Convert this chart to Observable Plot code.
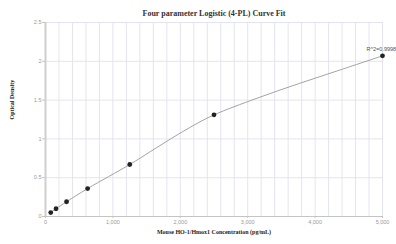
<!DOCTYPE html>
<html>
<head>
<meta charset="utf-8">
<script src="https://cdn.jsdelivr.net/npm/d3@7"></script>
<script src="https://cdn.jsdelivr.net/npm/@observablehq/plot@0.6"></script>
<style>
  html, body { margin: 0; padding: 0; background: #fff; }
</style>
</head>
<body>
<div id="chart"></div>
<script>
const titleText = "Four parameter Logistic (4-PL) Curve Fit";
const xLabel = "Mouse HO-1/Hmox1 Concentration (pg/mL)";
const yLabel = "Optical Density";
const r2Label = "R^2=0.9998";

const concentrations = [78.125, 156.25, 312.5, 625, 1250, 2500, 5000];
const odValues = [0.05, 0.10, 0.19, 0.36, 0.67, 1.31, 2.07];

const curveX = [78, 156, 312, 625, 1250, 1563, 1875, 2188, 2500, 3125, 3750, 4375, 5000];
const curveY = [0.05, 0.10, 0.19, 0.36, 0.67, 0.84, 1.01, 1.17, 1.31, 1.52, 1.71, 1.89, 2.07];

const xTicks = [0, 1000, 2000, 3000, 4000, 5000];
const xTickLabels = ["0", "1,000", "2,000", "3,000", "4,000", "5,000"];
const yTicks = [0, 0.5, 1, 1.5, 2, 2.5];
const yTickLabels = ["0", "0.5", "1", "1.5", "2", "2.5"];
const xGrid = d3.range(0, 5001, 200);

const points = concentrations.map((c, i) => ({x: c, y: odValues[i]}));
const curve = curveX.map((c, i) => ({x: c, y: curveY[i]}));

const serif = "'Liberation Serif', 'Times New Roman', serif";

const chart = Plot.plot({
  width: 396,
  height: 244,
  marginLeft: 45,
  marginRight: 14,
  marginTop: 22,
  marginBottom: 28,
  style: {fontFamily: "'Liberation Sans', Arial, sans-serif", background: "#fff", overflow: "hidden"},
  x: {domain: [0, 5000]},
  y: {domain: [0, 2.5]},
  marks: [
    Plot.gridX(xGrid, {stroke: "#e4e4f0", strokeOpacity: 1}),
    Plot.gridY(yTicks.slice(1), {stroke: "#e4e4f0", strokeOpacity: 1}),
    Plot.ruleY([0], {stroke: "#c4c4c4", strokeWidth: 1}),
    Plot.ruleX([0], {stroke: "#cfcfcf", strokeWidth: 2}),
    Plot.axisX(xTicks, {
      tickFormat: (d) => xTickLabels[xTicks.indexOf(d)],
      tickSize: 2, tickPadding: 2, fontSize: 5.5, color: "#999", stroke: "#c4c4c4", label: null
    }),
    Plot.axisY(yTicks, {
      tickFormat: (d) => yTickLabels[yTicks.indexOf(d)],
      tickSize: 3, tickPadding: 1, fontSize: 5.5, color: "#999", stroke: "#c4c4c4", label: null
    }),
    Plot.line(curve, {x: "x", y: "y", curve: "catmull-rom", stroke: "#999", strokeWidth: 0.9}),
    Plot.dot(points, {x: "x", y: "y", r: 2.4, fill: "#222", stroke: "none"}),
    Plot.text([r2Label], {x: [5000], y: [odValues[odValues.length - 1]], dx: -16, dy: -7, textAnchor: "start", fontSize: 5.5, fill: "#555"}),
    Plot.text([titleText], {frameAnchor: "top", dy: -12, fontFamily: serif, fontWeight: "bold", fontSize: 8, fill: "#333"}),
    Plot.text([xLabel], {frameAnchor: "bottom", dy: 17, fontFamily: serif, fontWeight: "bold", fontSize: 6, fill: "#222"}),
    Plot.text([yLabel], {frameAnchor: "left", dx: -33, rotate: -90, fontFamily: serif, fontWeight: "bold", fontSize: 6, fill: "#222"})
  ]
});
document.getElementById("chart").appendChild(chart);
</script>
</body>
</html>
